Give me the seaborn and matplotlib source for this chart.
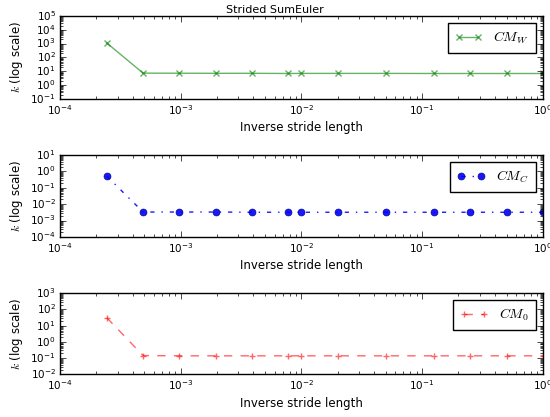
import matplotlib
matplotlib.use("Agg")
import matplotlib.pyplot as plt
import seaborn as sns
import numpy as np
from matplotlib.ticker import LogLocator, NullFormatter

plt.style.use('classic')
plt.rcParams['figure.facecolor'] = 'white'
plt.rcParams['savefig.facecolor'] = 'white'
plt.rcParams['font.size'] = 8.5

stride_inv = [1/4096, 1/2048, 1/1024, 1/512, 1/256, 1/128, 1/100, 1/50, 1/20, 1/8, 1/4, 1/2, 1.0]
k_cmw = [1100, 7.2, 7.1, 7.0, 7.0, 6.8, 6.9, 6.9, 6.9, 6.8, 6.8, 6.8, 6.8]
k_cmc = [0.52, 3.3e-3, 3.3e-3, 3.3e-3, 3.2e-3, 3.2e-3, 3.2e-3, 3.2e-3, 3.2e-3, 3.2e-3, 3.2e-3, 3.2e-3, 3.2e-3]
k_cm0 = [31, 0.145, 0.14, 0.14, 0.14, 0.14, 0.14, 0.14, 0.14, 0.14, 0.14, 0.14, 0.14]

series = [
    (k_cmw, r'$CM_W$', 'g', 'x', '-', (1e-1, 1e5)),
    (k_cmc, r'$CM_C$', 'b', 'o', '-.', (1e-4, 1e1)),
    (k_cm0, r'$CM_0$', 'r', '+', '--', (1e-2, 1e3)),
]

fig = plt.figure(figsize=(5.5, 4.17), dpi=100)
boxes = [(0.109, 0.763, 0.878, 0.199), (0.109, 0.432, 0.878, 0.196), (0.109, 0.102, 0.878, 0.195)]

for (vals, lab, col, mk, ls, ylim), box in zip(series, boxes):
    ax = fig.add_axes(box)
    if mk == 'o':
        sns.lineplot(x=stride_inv, y=vals, ax=ax, color=col, linestyle=ls, marker=mk,
                     markersize=5, markeredgecolor='#000080', markeredgewidth=0.5,
                     label=lab, alpha=0.9)
    else:
        sns.lineplot(x=stride_inv, y=vals, ax=ax, color=col, linestyle=ls, marker=mk,
                     markersize=5, markeredgewidth=1, markeredgecolor=col,
                     label=lab, alpha=0.6)
    ax.set_xscale('log')
    ax.set_yscale('log')
    ax.set_xlim(1e-4, 1.0)
    ax.set_ylim(*ylim)
    lo, hi = int(np.log10(ylim[0])), int(np.log10(ylim[1]))
    ax.set_yticks([10.0**e for e in range(lo, hi + 1)])
    ax.yaxis.set_minor_locator(LogLocator(base=10, subs=np.arange(2, 10), numticks=20))
    ax.yaxis.set_minor_formatter(NullFormatter())
    ax.set_xlabel('Inverse stride length', fontsize=8.5, labelpad=3)
    ax.set_ylabel(r'$k$ (log scale)', fontsize=8.5, labelpad=4)
    ax.tick_params(labelsize=7.5, pad=3)
    leg = ax.legend(loc='upper right', numpoints=2, fontsize=10, fancybox=False,
                    borderaxespad=0.5, handlelength=2.0, borderpad=0.5)
    leg.get_frame().set_edgecolor('black')

fig.text(0.5, 0.965, 'Strided SumEuler', ha='center', va='bottom', fontsize=8)
fig.savefig('out.png', dpi=100)
